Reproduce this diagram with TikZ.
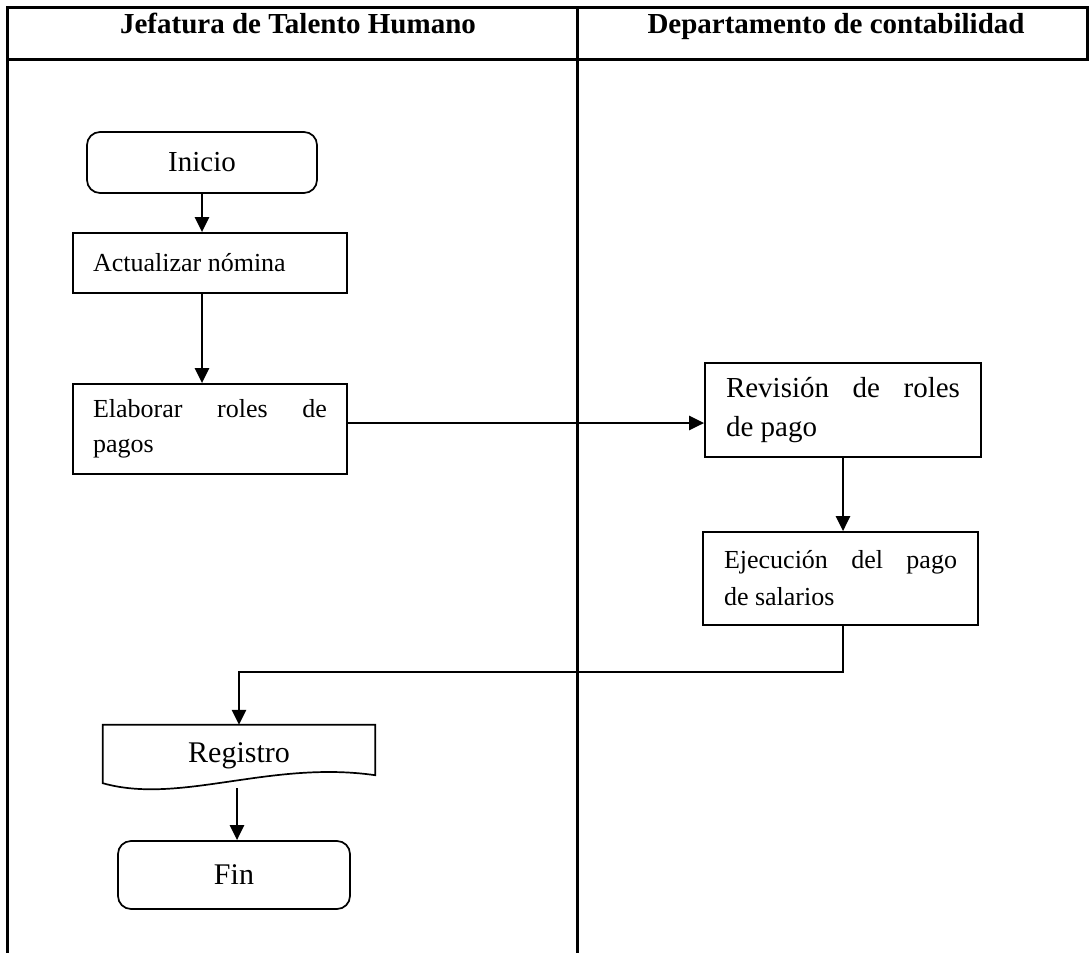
\documentclass[tikz,border=0pt]{standalone}
\usepackage{fontspec}
\setmainfont{Liberation Serif}
\usetikzlibrary{arrows.meta}
\begin{document}
\begin{tikzpicture}[x=1pt,y=-1pt,
  lane/.style={line width=3pt},
  box/.style={draw, line width=1.7pt, inner ysep=0pt},
  term/.style={box, rounded corners=13pt, inner xsep=0pt},
  act/.style={box, align=justify, inner xsep=20pt},
  flow/.style={line width=2.6pt, -{Triangle[length=15pt,width=14pt]}},
  head/.style={font=\bfseries\fontsize{29}{34}\selectfont, anchor=base, inner sep=0pt},
]
\useasboundingbox (0,0) rectangle (1089,953);

% swimlane frame
\draw[lane] (7,7.5) -- (1089,7.5);
\draw[lane] (7,59) -- (1089,59);
\draw[lane] (7,6) -- (7,953);
\draw[lane] (577,6) -- (577,953);
\draw[lane] (1087.5,6) -- (1087.5,60.5);

% lane titles
\node[head] (h1) at (298,33) {Jefatura de Talento Humano};
\node[head] (h2) at (836,33) {Departamento de contabilidad};

% steps
\node[term, minimum width=230pt, minimum height=61pt,
      font=\fontsize{29}{34}\selectfont] (ini) at (202,162.5) {Inicio};
\node[act, text width=234pt, minimum height=60pt,
      font=\fontsize{26}{35}\selectfont] (act) at (210,263) {Actualizar nómina};
\node[act, text width=234pt, minimum height=90pt,
      font=\fontsize{26}{35}\selectfont] (ela) at (210,429) {Elaborar roles de\linebreak pagos};
\node[act, text width=234pt, inner xsep=21pt, minimum height=94pt,
      font=\fontsize{29}{39}\selectfont] (rev) at (843,410) {Revisión de roles\linebreak de pago};
\node[act, text width=233pt, inner xsep=21pt, minimum height=93pt,
      font=\fontsize{26}{37}\selectfont] (eje) at (840.5,578.5) {Ejecución del pago\linebreak de salarios};

% document symbol
\node[minimum width=272pt, minimum height=62pt, inner sep=0pt,
      font=\fontsize{30}{36}\selectfont] (reg) at (239,756) {Registro};
\draw[line width=1.7pt] (reg.north west) -- ([yshift=4pt]reg.south west)
  .. controls (180,805) and (270,760) .. ([yshift=12pt]reg.south east)
  -- (reg.north east) -- cycle;

\node[term, minimum width=232pt, minimum height=68pt,
      font=\fontsize{30}{36}\selectfont] (fin) at (234,875) {Fin};

% connectors
\draw[flow] (ini.south) -- (ini.south |- act.north);
\draw[flow] (ini.south |- act.south) -- (ini.south |- ela.north);
\draw[flow] ([yshift=6pt]ela.east) -- ([yshift=6pt]ela.east -| rev.west);
\draw[flow] (rev.south) -- (rev.south |- eje.north);
\coordinate (turn) at (843,672);
\draw[flow] (turn |- eje.south) -- (turn) -| (reg.north);
\coordinate (regb) at (237,788);
\draw[flow] (regb) -- (regb |- fin.north);
\end{tikzpicture}
\end{document}
